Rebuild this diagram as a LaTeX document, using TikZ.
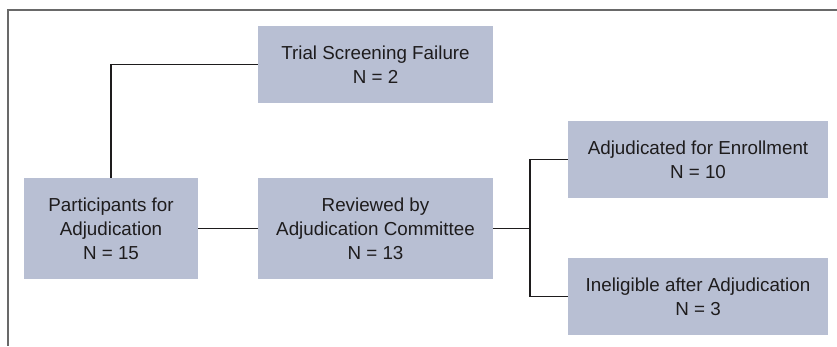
\documentclass[tikz,border=0pt]{standalone}
\usepackage{fontspec}
\setmainfont{Liberation Sans}
\usepackage{xcolor}
\definecolor{boxfill}{RGB}{184,191,211}
\definecolor{framegray}{RGB}{105,105,105}
\definecolor{textgray}{RGB}{30,28,29}
\tikzset{
  box/.style={fill=boxfill, text=textgray, align=center, inner sep=0pt,
    font=\fontsize{18.8}{24}\selectfont},
  link/.style={line width=1.9pt, textgray}
}

\begin{document}
\begin{tikzpicture}[x=1pt, y=-1pt]

\useasboundingbox (0,0) rectangle (837,346) ;

%frame
\draw [framegray, line width=1.3pt] (837,10) -- (8,10) -- (8,346) ;

%boxes
\node [box, minimum width=174pt, minimum height=101pt] (part) at (111,228.5) {Participants for\\Adjudication\\N = 15} ;
\node [box, minimum width=235pt, minimum height=77pt] (screen) at (375.5,64.5) {Trial Screening Failure\\N = 2} ;
\node [box, minimum width=235pt, minimum height=101pt] (review) at (375.5,228.5) {Reviewed by\\Adjudication Committee\\N = 13} ;
\node [box, minimum width=260pt, minimum height=77pt] (enroll) at (698,159.5) {Adjudicated for Enrollment\\N = 10} ;
\node [box, minimum width=260pt, minimum height=77pt] (inelig) at (698,296.5) {Ineligible after Adjudication\\N = 3} ;

%connectors
\coordinate (split) at (530,228.5) ;
\draw [link] (part.north) |- (screen.west) ;
\draw [link] (part.east) -- (review.west) ;
\draw [link] (review.east) -- (split) ;
\draw [link] (enroll.west) -| (split) |- (inelig.west) ;

\end{tikzpicture}
\end{document}
